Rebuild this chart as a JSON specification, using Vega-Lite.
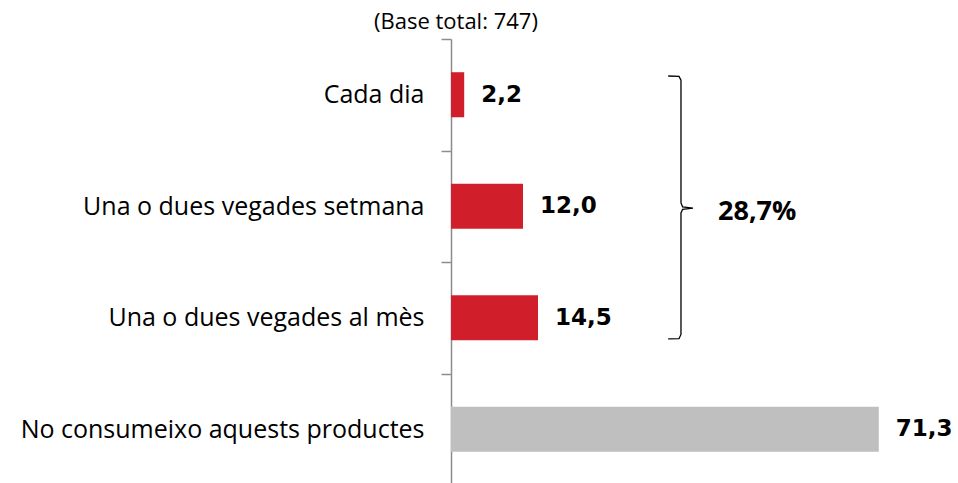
{
  "$schema": "https://vega.github.io/schema/vega-lite/v6.json",
  "width": 500,
  "height": 446,
  "autosize": "none",
  "padding": {"left": 451, "top": 39, "right": 7, "bottom": 0},
  "background": "white",
  "title": {"text": "(Base total: 747)", "anchor": "start", "frame": "group", "dx": -77, "dy": 13, "offset": 6, "fontSize": 22, "font": "Open Sans", "fontWeight": "normal", "color": "#000000"},
  "config": {"view": {"stroke": null}},
  "datasets": {
    "bars": [
      {"cat": "Cada dia", "value": 2.2, "label": "2,2", "group": "si"},
      {"cat": "Una o dues vegades setmana", "value": 12.0, "label": "12,0", "group": "si"},
      {"cat": "Una o dues vegades al mès", "value": 14.5, "label": "14,5", "group": "si"},
      {"cat": "No consumeixo aquests productes", "value": 71.3, "label": "71,3", "group": "no"}
    ],
    "brace": [
      {"o": 1, "bx": 36.2, "by": 0.332},
      {"o": 2, "bx": 38.0, "by": 0.335},
      {"o": 3, "bx": 38.33, "by": 0.37},
      {"o": 4, "bx": 38.33, "by": 1.47},
      {"o": 5, "bx": 38.6, "by": 1.505},
      {"o": 6, "bx": 40.33, "by": 1.516},
      {"o": 7, "bx": 38.6, "by": 1.527},
      {"o": 8, "bx": 38.33, "by": 1.56},
      {"o": 9, "bx": 38.33, "by": 2.65},
      {"o": 10, "bx": 38.0, "by": 2.688},
      {"o": 11, "bx": 36.2, "by": 2.69}
    ],
    "note": [{"nx": 44.5, "ny": 1.55, "text": "28,7%"}]
  },
  "layer": [
    {
      "data": {"name": "bars"},
      "encoding": {
        "y": {
          "field": "cat", "type": "nominal", "sort": null,
          "scale": {"paddingInner": 0, "paddingOuter": 0},
          "axis": {
            "title": null, "tickBand": "extent",
            "domainColor": "#8c8c8c", "tickColor": "#8c8c8c",
            "domainWidth": 1.5, "tickWidth": 1.5, "tickSize": 10,
            "labelFont": "Open Sans", "labelFontSize": 25, "labelColor": "#000000",
            "labelPadding": 17, "labelLimit": 450
          }
        },
        "x": {"field": "value", "type": "quantitative", "scale": {"domain": [0, 83.333], "nice": false}, "axis": null}
      },
      "layer": [
        {
          "mark": {"type": "bar", "height": {"band": 0.404}},
          "encoding": {
            "color": {"field": "group", "type": "nominal", "scale": {"domain": ["si", "no"], "range": ["#D01F2A", "#BFBFBF"]}, "legend": null}
          }
        },
        {
          "mark": {"type": "text", "align": "left", "baseline": "middle", "dx": 17, "font": "DejaVu Sans", "fontWeight": "bold", "fontSize": 23, "color": "#000000"},
          "encoding": {"text": {"field": "label"}}
        }
      ]
    },
    {
      "data": {"name": "brace"},
      "mark": {"type": "line", "color": "#000000", "strokeWidth": 1.3},
      "encoding": {
        "x": {"field": "bx", "type": "quantitative", "scale": {"domain": [0, 83.333], "nice": false}, "axis": null},
        "y": {"field": "by", "type": "quantitative", "scale": {"domain": [0, 4], "reverse": true, "nice": false, "zero": false}, "axis": null},
        "order": {"field": "o", "type": "quantitative"}
      }
    },
    {
      "data": {"name": "note"},
      "mark": {"type": "text", "align": "left", "baseline": "middle", "font": "Open Sans", "fontWeight": "bold", "fontSize": 27, "color": "#000000"},
      "encoding": {
        "x": {"field": "nx", "type": "quantitative", "scale": {"domain": [0, 83.333], "nice": false}, "axis": null},
        "y": {"field": "ny", "type": "quantitative", "scale": {"domain": [0, 4], "reverse": true, "nice": false, "zero": false}, "axis": null},
        "text": {"field": "text"}
      }
    }
  ],
  "resolve": {"scale": {"y": "independent"}, "axis": {"y": "independent"}}
}
